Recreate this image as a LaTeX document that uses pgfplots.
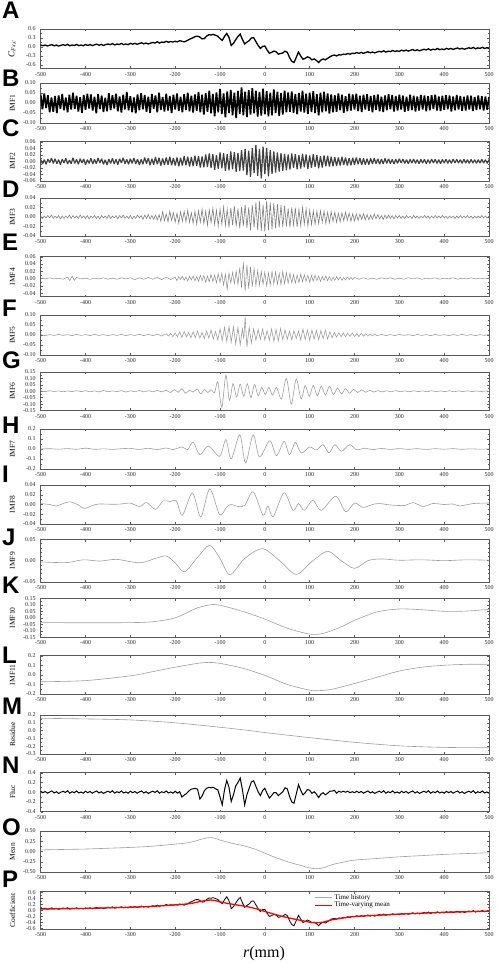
\documentclass[border=0pt]{standalone}
\usepackage{pgfplots}
\pgfplotsset{compat=1.18}
\usepackage{pgfplotstable}
\usepackage{fontspec}
\setmainfont{Liberation Serif}
\newfontfamily\panfont{Liberation Sans}

\pgfplotstableread[row sep=\\]{
x y\\
-500 0.070\\ -495 0.040\\ -490 0.066\\ -485 0.032\\ -480 0.057\\ -475 0.078\\ -470 0.038\\ -465 0.064\\ -460 0.029\\ -455 0.055\\
-450 0.075\\ -445 0.051\\ -440 0.086\\ -435 0.037\\ -430 0.067\\ -425 0.048\\ -420 0.083\\ -415 0.044\\ -410 0.064\\ -405 0.040\\
-400 0.080\\ -395 0.052\\ -390 0.079\\ -385 0.046\\ -380 0.073\\ -375 0.095\\ -370 0.057\\ -365 0.084\\ -360 0.051\\ -355 0.078\\
-350 0.100\\ -345 0.077\\ -340 0.114\\ -335 0.066\\ -330 0.098\\ -325 0.080\\ -320 0.117\\ -315 0.079\\ -310 0.101\\ -305 0.078\\
-300 0.120\\ -295 0.093\\ -290 0.121\\ -285 0.089\\ -280 0.117\\ -275 0.140\\ -270 0.103\\ -265 0.131\\ -260 0.099\\ -255 0.127\\
-250 0.150\\ -245 0.131\\ -240 0.172\\ -235 0.128\\ -230 0.164\\ -225 0.150\\ -220 0.191\\ -215 0.157\\ -210 0.183\\ -205 0.164\\
-200 0.19\\ -195 0.17\\ -190 0.21\\ -185 0.19\\ -180 0.17\\ -175 0.20\\ -170 0.24\\ -165 0.28\\ -160 0.31\\ -155 0.35\\
-150 0.36\\ -145 0.33\\ -140 0.27\\ -135 0.28\\ -130 0.36\\ -125 0.41\\ -120 0.40\\ -115 0.42\\ -110 0.39\\ -105 0.36\\
-100 0.28\\ -95 0.22\\ -90 0.35\\ -85 0.45\\ -80 0.32\\ -75 0.05\\ -70 0.12\\ -65 0.24\\ -60 0.35\\ -55 0.43\\
-50 0.25\\ -45 0.10\\ -40 0.16\\ -35 0.21\\ -30 0.30\\ -25 0.31\\ -20 0.18\\ -15 0.05\\ -10 -0.05\\ -5 0.02\\
0 0.03\\ 5 -0.10\\ 10 -0.21\\ 15 -0.18\\ 20 -0.14\\ 25 -0.16\\ 30 -0.24\\ 35 -0.22\\ 40 -0.20\\ 45 -0.14\\
50 -0.18\\ 55 -0.35\\ 60 -0.48\\ 65 -0.52\\ 70 -0.35\\ 75 -0.17\\ 80 -0.30\\ 85 -0.41\\ 90 -0.38\\ 95 -0.33\\
100 -0.36\\ 105 -0.43\\ 110 -0.40\\ 115 -0.45\\ 120 -0.52\\ 125 -0.44\\ 130 -0.40\\ 135 -0.43\\ 140 -0.38\\ 145 -0.33\\
150 -0.29\\ 155 -0.27\\ 160 -0.30\\ 165 -0.26\\ 170 -0.27\\ 175 -0.24\\ 180 -0.25\\ 185 -0.22\\ 190 -0.24\\ 195 -0.21\\
200 -0.22\\ 205 -0.186\\ 210 -0.212\\ 215 -0.183\\ 220 -0.214\\ 225 -0.185\\ 230 -0.161\\ 235 -0.197\\ 240 -0.168\\ 245 -0.199\\
250 -0.170\\ 255 -0.146\\ 260 -0.167\\ 265 -0.128\\ 270 -0.174\\ 275 -0.140\\ 280 -0.156\\ 285 -0.117\\ 290 -0.153\\ 295 -0.129\\
300 -0.150\\ 305 -0.107\\ 310 -0.134\\ 315 -0.106\\ 320 -0.138\\ 325 -0.110\\ 330 -0.087\\ 335 -0.124\\ 340 -0.096\\ 345 -0.128\\
350 -0.100\\ 355 -0.077\\ 360 -0.099\\ 365 -0.061\\ 370 -0.108\\ 375 -0.075\\ 380 -0.092\\ 385 -0.054\\ 390 -0.091\\ 395 -0.068\\
400 -0.090\\ 405 -0.048\\ 410 -0.076\\ 415 -0.049\\ 420 -0.082\\ 425 -0.055\\ 430 -0.033\\ 435 -0.071\\ 440 -0.044\\ 445 -0.077\\
450 -0.050\\ 455 -0.028\\ 460 -0.051\\ 465 -0.014\\ 470 -0.062\\ 475 -0.030\\ 480 -0.048\\ 485 -0.011\\ 490 -0.049\\ 495 -0.027\\
500 -0.050\\
}\Adata

\pgfplotstableread[row sep=\\]{
x y\\
-500 0.04\\ -450 0.05\\ -400 0.06\\ -350 0.08\\ -300 0.10\\ -250 0.13\\ -200 0.18\\ -180 0.20\\ -160 0.24\\ -145 0.29\\
-130 0.33\\ -120 0.34\\ -110 0.32\\ -100 0.28\\ -80 0.22\\ -60 0.17\\ -40 0.12\\ -20 0.05\\ 0 -0.04\\ 20 -0.13\\
40 -0.21\\ 60 -0.28\\ 80 -0.34\\ 100 -0.40\\ 115 -0.42\\ 130 -0.40\\ 150 -0.32\\ 175 -0.26\\ 200 -0.21\\ 250 -0.17\\
300 -0.13\\ 350 -0.10\\ 400 -0.07\\ 450 -0.05\\ 500 -0.03\\
}\Odata

\pgfplotsset{
  pan/.style={scale only axis, width=448.3pt, xmin=-500, xmax=500, anchor=north west,
    xtick={-500,-400,-300,-200,-100,0,100,200,300,400,500},
    scaled ticks=false, clip=true,
    tick align=inside, major tick length=2.2pt, minor tick length=1.2pt,
    minor y tick num=1, xtick pos=both, ytick pos=both,
    axis line style={black!65, line width=0.5pt},
    every tick/.append style={black!65, line width=0.4pt},
    tick label style={font=\fontsize{6}{7}\selectfont, text=black!85},
    /pgf/number format/assume math mode=true,
    xticklabel style={/pgf/number format/.cd, fixed, precision=0},
    yticklabel style={xshift=-1.5pt},
    ylabel style={at={(axis description cs:-0.063,0.5)}, anchor=center, font=\fontsize{7.5}{8}\selectfont},
  },
  p1/.style={yticklabel style={/pgf/number format/.cd, fixed, fixed zerofill, precision=1}},
  p2/.style={yticklabel style={/pgf/number format/.cd, fixed, fixed zerofill, precision=2}},
}

\newcommand{\plab}[2]{\node[anchor=base west, inner sep=0pt] at (2pt,-#1pt) {\panfont\bfseries\fontsize{24}{24}\selectfont #2};}

\begin{document}
\begin{tikzpicture}
\useasboundingbox (0pt,0pt) rectangle (498pt,-964pt);

\plab{18}{A}\plab{86}{B}\plab{136}{C}\plab{197}{D}\plab{250}{E}\plab{316}{F}\plab{368}{G}\plab{433}{H}
\plab{482}{I}\plab{545}{J}\plab{593}{K}\plab{663}{L}\plab{714}{M}\plab{773}{N}\plab{835}{O}\plab{887}{P}

% A
\begin{axis}[pan, p1, at={(40.7pt,-29pt)}, height=39.5pt, ymin=-0.72, ymax=0.6,
  ytick={-0.6,-0.3,0,0.3,0.6}, ylabel={\fontsize{9}{9}\selectfont\textit{C}\textsubscript{\textit{Fx,c}}}]
\addplot[black, line width=1.3pt] table[x=x,y=y] {\Adata};
\end{axis}

% B
\begin{axis}[pan, p2, at={(40.7pt,-83pt)}, height=40pt, ymin=-0.1, ymax=0.1,
  ytick={-0.1,-0.05,0,0.05,0.1}, ylabel={IMF1}]
\addplot[black, line width=1.7pt, line join=bevel] coordinates {
(-500,0.042)(-496,-0.031)(-492,0.048)(-488,-0.025)(-484,0.039)(-480,-0.046)(-476,0.028)(-472,-0.044)(-468,0.035)(-464,-0.050)
(-460,0.038)(-456,-0.029)(-452,0.045)(-448,-0.036)(-444,0.027)(-440,-0.047)(-436,0.041)(-432,-0.033)(-428,0.052)(-424,-0.030)
(-420,0.036)(-416,-0.043)(-412,0.029)(-408,-0.049)(-404,0.040)(-400,-0.034)(-396,0.046)(-392,-0.027)(-388,0.043)(-384,-0.038)
(-380,0.031)(-376,-0.051)(-372,0.044)(-368,-0.030)(-364,0.037)(-360,-0.045)(-356,0.026)(-352,-0.041)(-348,0.049)(-344,-0.035)
(-340,0.039)(-336,-0.028)(-332,0.047)(-328,-0.042)(-324,0.033)(-320,-0.048)(-316,0.041)(-312,-0.032)(-308,0.055)(-304,-0.037)
(-300,0.034)(-296,-0.046)(-292,0.028)(-288,-0.052)(-284,0.043)(-280,-0.036)(-276,0.049)(-272,-0.031)(-268,0.040)(-264,-0.044)
(-260,0.032)(-256,-0.049)(-252,0.045)(-248,-0.029)(-244,0.038)(-240,-0.047)(-236,0.051)(-232,-0.034)(-228,0.030)(-224,-0.043)
(-220,0.046)(-216,-0.038)(-212,0.035)(-208,-0.050)(-204,0.042)(-200,-0.033)(-196,0.048)(-192,-0.040)(-188,0.031)(-184,-0.046)
(-180,0.044)(-176,-0.035)(-172,0.052)(-168,-0.041)(-164,0.037)(-160,-0.048)(-156,0.043)(-152,-0.039)(-148,0.055)(-144,-0.046)
(-140,0.041)(-136,-0.058)(-132,0.049)(-128,-0.044)(-124,0.062)(-120,-0.051)(-116,0.045)(-112,-0.066)(-108,0.053)(-104,-0.047)
(-100,0.070)(-96,-0.055)(-92,0.048)(-88,-0.072)(-84,0.058)(-80,-0.050)(-76,0.065)(-72,-0.061)(-68,0.052)(-64,-0.075)
(-60,0.060)(-56,-0.054)(-52,0.078)(-48,-0.062)(-44,0.057)(-40,-0.070)(-36,0.064)(-32,-0.058)(-28,0.074)(-24,-0.052)
(-20,0.061)(-16,-0.068)(-12,0.055)(-8,-0.063)(-4,0.071)(0,-0.057)(4,0.059)(8,-0.066)(12,0.052)(16,-0.061)
(20,0.068)(24,-0.050)(28,0.056)(32,-0.064)(36,0.049)(40,-0.058)(44,0.062)(48,-0.047)(52,0.053)(56,-0.044)
(60,0.058)(64,-0.049)(68,0.045)(72,-0.056)(76,0.050)(80,-0.043)(84,0.061)(88,-0.048)(92,0.046)(96,-0.055)
(100,0.052)(104,-0.045)(108,0.059)(112,-0.050)(116,0.044)(120,-0.062)(124,0.051)(128,-0.046)(132,0.057)(136,-0.042)
(140,0.048)(144,-0.053)(148,0.043)(152,-0.047)(156,0.039)(160,-0.044)(164,0.048)(168,-0.036)(172,0.042)(176,-0.049)
(180,0.034)(184,-0.041)(188,0.046)(192,-0.038)(196,0.043)(200,-0.033)(204,0.047)(208,-0.040)(212,0.036)(216,-0.045)
(220,0.041)(224,-0.032)(228,0.044)(232,-0.039)(236,0.035)(240,-0.046)(244,0.040)(248,-0.034)(252,0.043)(256,-0.041)
(260,0.032)(264,-0.045)(268,0.038)(272,-0.036)(276,0.044)(280,-0.031)(284,0.040)(288,-0.043)(292,0.035)(296,-0.038)
(300,0.042)(304,-0.033)(308,0.037)(312,-0.044)(316,0.031)(320,-0.039)(324,0.041)(328,-0.035)(332,0.036)(336,-0.042)
(340,0.033)(344,-0.037)(348,0.040)(352,-0.032)(356,0.038)(360,-0.041)(364,0.034)(368,-0.036)(372,0.039)(376,-0.030)
(380,0.042)(384,-0.038)(388,0.033)(392,-0.040)(396,0.036)(400,-0.034)(404,0.039)(408,-0.031)(412,0.037)(416,-0.042)
(420,0.032)(424,-0.036)(428,0.040)(432,-0.033)(436,0.035)(440,-0.039)(444,0.031)(448,-0.037)(452,0.038)(456,-0.032)
(460,0.036)(464,-0.040)(468,0.030)(472,-0.035)(476,0.037)(480,-0.031)(484,0.034)(488,-0.038)(492,0.032)(496,-0.034)(500,0.030)};
\end{axis}

% C
\begin{axis}[pan, p2, at={(40.7pt,-141.7pt)}, height=39.3pt, ymin=-0.06, ymax=0.06,
  ytick={-0.06,-0.04,-0.02,0,0.02,0.04,0.06}, ylabel={IMF2}]
\addplot[black!75, line width=1.2pt, line join=bevel] coordinates {
(-500,0.006)(-496,-0.008)(-492,0.005)(-488,-0.009)(-484,0.007)(-480,-0.004)(-476,0.010)(-472,-0.006)(-468,0.008)(-464,-0.007)
(-460,0.005)(-456,-0.010)(-452,0.007)(-448,-0.005)(-444,0.009)(-440,-0.008)(-436,0.004)(-432,-0.007)(-428,0.011)(-424,-0.006)
(-420,0.006)(-416,-0.009)(-412,0.008)(-408,-0.005)(-404,0.007)(-400,-0.010)(-396,0.005)(-392,-0.006)(-388,0.009)(-384,-0.008)
(-380,0.006)(-376,-0.007)(-372,0.010)(-368,-0.005)(-364,0.008)(-360,-0.009)(-356,0.005)(-352,-0.011)(-348,0.007)(-344,-0.006)
(-340,0.009)(-336,-0.008)(-332,0.006)(-328,-0.010)(-324,0.008)(-320,-0.005)(-316,0.011)(-312,-0.007)(-308,0.006)(-304,-0.009)
(-300,0.008)(-296,-0.006)(-292,0.010)(-288,-0.008)(-284,0.007)(-280,-0.011)(-276,0.006)(-272,-0.009)(-268,0.012)(-264,-0.007)
(-260,0.010)(-256,-0.012)(-252,0.008)(-248,-0.010)(-244,0.013)(-240,-0.009)(-236,0.011)(-232,-0.013)(-228,0.009)(-224,-0.011)
(-220,0.012)(-216,-0.010)(-212,0.014)(-208,-0.012)(-204,0.010)(-200,-0.013)(-196,0.012)(-192,-0.015)(-188,0.011)(-184,-0.013)
(-180,0.016)(-176,-0.012)(-172,0.014)(-168,-0.016)(-164,0.013)(-160,-0.015)(-156,0.017)(-152,-0.014)(-148,0.016)(-144,-0.019)
(-140,0.015)(-136,-0.018)(-132,0.021)(-128,-0.017)(-124,0.024)(-120,-0.020)(-116,0.022)(-112,-0.026)(-108,0.019)(-104,-0.023)
(-100,0.027)(-96,-0.021)(-92,0.025)(-88,-0.029)(-84,0.022)(-80,-0.027)(-76,0.030)(-72,-0.024)(-68,0.028)(-64,-0.032)
(-60,0.026)(-56,-0.030)(-52,0.034)(-48,-0.028)(-44,0.038)(-40,-0.042)(-36,0.033)(-32,-0.047)(-28,0.040)(-24,-0.036)
(-20,0.050)(-16,-0.044)(-12,0.038)(-8,-0.052)(-4,0.045)(0,-0.039)(4,0.041)(8,-0.046)(12,0.034)(16,-0.038)
(20,0.030)(24,-0.034)(28,0.027)(32,-0.031)(36,0.025)(40,-0.029)(44,0.023)(48,-0.027)(52,0.021)(56,-0.025)
(60,0.024)(64,-0.020)(68,0.022)(72,-0.024)(76,0.019)(80,-0.022)(84,0.023)(88,-0.018)(92,0.021)(96,-0.023)
(100,0.018)(104,-0.020)(108,0.022)(112,-0.017)(116,0.019)(120,-0.021)(124,0.016)(128,-0.019)(132,0.018)(136,-0.015)
(140,0.017)(144,-0.016)(148,0.014)(152,-0.015)(156,0.013)(160,-0.014)(164,0.012)(168,-0.013)(172,0.014)(176,-0.011)
(180,0.012)(184,-0.013)(188,0.010)(192,-0.012)(196,0.011)(200,-0.010)(204,0.012)(208,-0.009)(212,0.010)(216,-0.011)
(220,0.009)(224,-0.010)(228,0.008)(232,-0.010)(236,0.009)(240,-0.008)(244,0.010)(248,-0.007)(252,0.008)(256,-0.009)
(260,0.007)(264,-0.008)(268,0.009)(272,-0.006)(276,0.008)(280,-0.007)(284,0.006)(288,-0.008)(292,0.007)(296,-0.006)
(300,0.008)(304,-0.005)(308,0.007)(312,-0.006)(316,0.005)(320,-0.007)(324,0.006)(328,-0.005)(332,0.007)(336,-0.006)
(340,0.005)(344,-0.007)(348,0.006)(352,-0.005)(356,0.006)(360,-0.007)(364,0.005)(368,-0.006)(372,0.007)(376,-0.005)
(380,0.006)(384,-0.006)(388,0.005)(392,-0.007)(396,0.006)(400,-0.005)(404,0.006)(408,-0.006)(412,0.005)(416,-0.006)
(420,0.007)(424,-0.005)(428,0.006)(432,-0.005)(436,0.005)(440,-0.006)(444,0.006)(448,-0.005)(452,0.005)(456,-0.006)
(460,0.006)(464,-0.005)(468,0.005)(472,-0.006)(476,0.005)(480,-0.005)(484,0.006)(488,-0.005)(492,0.005)(496,-0.006)(500,0.005)};
\end{axis}

% D
\begin{axis}[pan, p2, at={(40.7pt,-198pt)}, height=38pt, ymin=-0.04, ymax=0.04,
  ytick={-0.04,-0.02,0,0.02,0.04}, ylabel={IMF3}]
\addplot[black!50, line width=0.6pt] coordinates {
(-500,0.002)(-496,-0.003)(-492,0.002)(-488,-0.002)(-484,0.003)(-480,-0.002)(-476,0.004)(-472,-0.003)(-468,0.002)(-464,-0.002)
(-460,0.003)(-456,-0.004)(-452,0.002)(-448,-0.003)(-444,0.002)(-440,-0.002)(-436,0.004)(-432,-0.003)(-428,0.003)(-424,-0.002)
(-420,0.002)(-416,-0.003)(-412,0.004)(-408,-0.002)(-404,0.002)(-400,-0.003)(-396,0.003)(-392,-0.004)(-388,0.002)(-384,-0.002)
(-380,0.003)(-376,-0.003)(-372,0.002)(-368,-0.004)(-364,0.003)(-360,-0.002)(-356,0.002)(-352,-0.003)(-348,0.004)(-344,-0.003)
(-340,0.002)(-336,-0.002)(-332,0.003)(-328,-0.004)(-324,0.003)(-320,-0.002)(-316,0.004)(-312,-0.003)(-308,0.002)(-304,-0.003)
(-300,0.003)(-296,-0.004)(-292,0.002)(-288,-0.003)(-284,0.004)(-280,-0.002)(-276,0.003)(-272,-0.005)(-268,0.004)(-264,-0.003)
(-260,0.005)(-256,-0.004)(-252,0.003)(-248,-0.005)(-244,0.004)(-240,-0.006)(-236,0.005)(-232,-0.009)(-228,0.011)(-224,-0.008)
(-220,0.006)(-216,-0.010)(-212,0.012)(-208,-0.007)(-204,0.009)(-200,-0.011)(-196,0.008)(-192,-0.013)(-188,0.011)(-184,-0.009)
(-180,0.012)(-176,-0.010)(-172,0.014)(-168,-0.011)(-164,0.009)(-160,-0.013)(-156,0.012)(-152,-0.015)(-148,0.013)(-144,-0.011)
(-140,0.016)(-136,-0.014)(-132,0.012)(-128,-0.017)(-124,0.015)(-120,-0.012)(-116,0.018)(-112,-0.016)(-108,0.014)(-104,-0.019)
(-100,0.017)(-96,-0.015)(-92,0.021)(-88,-0.018)(-84,0.016)(-80,-0.022)(-76,0.019)(-72,-0.017)(-68,0.023)(-64,-0.020)
(-60,0.018)(-56,-0.024)(-52,0.021)(-48,-0.019)(-44,0.026)(-40,-0.023)(-36,0.020)(-32,-0.028)(-28,0.025)(-24,-0.022)
(-20,0.030)(-16,-0.027)(-12,0.033)(-8,-0.029)(-4,0.026)(0,-0.031)(4,0.034)(8,-0.028)(12,0.031)(16,-0.026)
(20,0.029)(24,-0.024)(28,0.027)(32,-0.022)(36,0.025)(40,-0.021)(44,0.024)(48,-0.020)(52,0.018)(56,-0.022)
(60,0.020)(64,-0.017)(68,0.019)(72,-0.021)(76,0.016)(80,-0.018)(84,0.020)(88,-0.015)(92,0.017)(96,-0.019)
(100,0.014)(104,-0.016)(108,0.013)(112,-0.015)(116,0.012)(120,-0.014)(124,0.013)(128,-0.011)(132,0.012)(136,-0.013)
(140,0.010)(144,-0.012)(148,0.011)(152,-0.009)(156,0.010)(160,-0.011)(164,0.008)(168,-0.010)(172,0.009)(176,-0.008)
(180,0.010)(184,-0.007)(188,0.008)(192,-0.009)(196,0.007)(200,-0.008)(204,0.006)(208,-0.007)(212,0.006)(216,-0.005)
(220,0.007)(224,-0.006)(228,0.005)(232,-0.006)(236,0.004)(240,-0.005)(244,0.006)(248,-0.004)(252,0.005)(256,-0.004)
(260,0.003)(264,-0.005)(268,0.004)(272,-0.003)(276,0.004)(280,-0.003)(284,0.003)(288,-0.004)(292,0.003)(296,-0.002)
(300,0.003)(304,-0.003)(308,0.002)(312,-0.003)(316,0.003)(320,-0.002)(324,0.002)(328,-0.003)(332,0.003)(336,-0.002)
(340,0.002)(344,-0.003)(348,0.002)(352,-0.002)(356,0.003)(360,-0.002)(364,0.002)(368,-0.003)(372,0.002)(376,-0.002)
(380,0.003)(384,-0.002)(388,0.002)(392,-0.002)(396,0.003)(400,-0.002)(404,0.002)(408,-0.003)(412,0.002)(416,-0.002)
(420,0.002)(424,-0.003)(428,0.002)(432,-0.002)(436,0.003)(440,-0.002)(444,0.002)(448,-0.002)(452,0.003)(456,-0.002)
(460,0.002)(464,-0.003)(468,0.002)(472,-0.002)(476,0.002)(480,-0.002)(484,0.003)(488,-0.002)(492,0.002)(496,-0.002)(500,0.002)};
\end{axis}

% E
\begin{axis}[pan, p2, at={(40.7pt,-256.7pt)}, height=40pt, ymin=-0.05, ymax=0.06,
  ytick={-0.04,-0.02,0,0.02,0.04,0.06}, ylabel={IMF4}]
\addplot[black!45, line width=0.5pt] coordinates {
(-500,0.001)(-490,-0.001)(-480,0.002)(-470,-0.001)(-460,0.001)(-450,-0.002)(-440,0.004)(-435,-0.006)(-430,0.007)(-425,-0.005)
(-420,0.003)(-410,-0.001)(-400,0.001)(-390,-0.002)(-380,0.001)(-370,-0.001)(-360,0.002)(-350,-0.002)(-340,0.001)(-330,-0.002)
(-320,0.002)(-310,-0.001)(-300,0.002)(-290,-0.003)(-280,0.002)(-270,-0.002)(-260,0.003)(-250,-0.002)(-240,0.003)(-230,-0.003)
(-220,0.004)(-210,-0.003)
(-200,0.004)(-196,-0.006)(-192,0.005)(-188,-0.003)(-184,0.006)(-180,-0.005)(-176,0.004)(-172,-0.007)(-168,0.006)(-164,-0.004)
(-160,0.007)(-156,-0.006)(-152,0.005)(-148,-0.008)(-144,0.009)(-140,-0.006)(-136,0.008)(-132,-0.010)(-128,0.007)(-124,-0.009)
(-120,0.011)(-116,-0.008)(-112,0.010)(-108,-0.012)(-104,0.013)(-100,-0.010)(-96,0.014)(-92,-0.018)(-88,0.012)(-84,-0.030)
(-80,0.015)(-76,-0.012)(-72,0.017)(-68,-0.014)(-64,0.020)(-60,-0.016)(-56,0.030)(-52,-0.025)(-48,0.045)(-44,-0.035)
(-40,0.038)(-36,-0.028)(-32,0.032)(-28,-0.022)(-24,0.028)(-20,-0.020)(-16,0.022)(-12,-0.018)(-8,0.020)(-4,-0.016)
(0,0.018)(4,-0.020)(8,0.016)(12,-0.018)(16,0.020)(20,-0.015)(24,0.018)(28,-0.016)(32,0.014)(36,-0.017)
(40,0.019)(44,-0.014)(48,0.016)(52,-0.013)(56,0.015)(60,-0.012)(64,0.011)(68,-0.013)(72,0.010)(76,-0.011)
(80,0.012)(84,-0.009)(88,0.010)(92,-0.008)(96,0.009)(100,-0.010)(104,0.008)(108,-0.007)(112,0.009)(116,-0.006)
(120,0.007)(124,-0.008)(128,0.006)(132,-0.005)(136,0.007)(140,-0.006)(144,0.005)(148,-0.006)(152,0.004)(156,-0.005)
(160,0.005)(164,-0.004)(168,0.004)(172,-0.005)(176,0.003)(180,-0.004)(184,0.004)(188,-0.003)(192,0.003)(196,-0.003)(200,0.003)
(210,-0.002)(220,0.002)(230,-0.002)(240,0.001)(250,-0.002)(260,0.002)(270,-0.001)(280,0.002)(290,-0.002)(300,0.001)
(310,-0.002)(320,0.002)(330,-0.001)(340,0.002)(350,-0.002)(360,0.001)(370,-0.001)(380,0.002)(390,-0.002)(400,0.001)
(410,-0.001)(420,0.002)(430,-0.002)(440,0.001)(450,-0.001)(460,0.002)(470,-0.001)(480,0.001)(490,-0.001)(500,0.001)};
\end{axis}

% F
\begin{axis}[pan, p2, at={(40.7pt,-315pt)}, height=40pt, ymin=-0.1, ymax=0.1,
  ytick={-0.1,-0.05,0,0.05,0.1}, ylabel={IMF5}]
\addplot[black!38, line width=0.6pt] coordinates {
(-500,0.002)(-490,-0.003)(-480,0.002)(-470,-0.002)(-460,0.003)(-450,-0.002)(-440,0.002)(-430,-0.003)(-420,0.003)(-410,-0.002)
(-400,0.002)(-390,-0.003)(-380,0.003)(-370,-0.002)(-360,0.002)(-350,-0.003)(-340,0.002)(-330,-0.002)(-320,0.003)(-310,-0.003)
(-300,0.002)(-290,-0.002)(-280,0.003)(-270,-0.003)(-260,0.004)(-250,-0.003)(-240,0.004)(-230,-0.005)
(-220,0.006)(-215,-0.005)(-210,0.007)(-205,-0.008)(-200,0.010)(-195,-0.009)(-190,0.015)(-185,-0.012)(-180,0.018)(-175,-0.010)
(-170,0.012)(-165,-0.014)(-160,0.016)(-155,-0.013)(-150,0.020)(-145,-0.015)(-140,0.012)(-135,-0.018)(-130,0.020)(-125,-0.016)
(-120,0.024)(-115,-0.020)(-110,0.018)(-105,-0.025)(-100,0.030)(-95,-0.028)(-90,0.038)(-85,-0.032)(-80,0.042)(-75,-0.036)
(-70,0.040)(-65,-0.044)(-60,0.038)(-55,-0.048)(-50,0.030)(-47,-0.020)(-44,0.090)(-40,-0.060)(-35,0.038)(-30,-0.040)
(-25,0.030)(-20,-0.026)(-15,0.028)(-10,-0.022)(-5,0.030)(0,-0.025)(5,0.022)(10,-0.028)(15,0.030)(20,-0.032)
(25,0.028)(30,-0.030)(35,0.032)(40,-0.024)(45,0.026)(50,-0.022)(55,0.020)(60,-0.024)(65,0.022)(70,-0.018)
(75,0.020)(80,-0.025)(85,0.030)(90,-0.022)(95,0.024)(100,-0.026)(105,0.025)(110,-0.020)(115,0.023)(120,-0.024)
(125,0.022)(130,-0.018)(135,0.025)(140,-0.020)(145,0.016)(150,-0.014)(155,0.012)(160,-0.010)(165,0.011)(170,-0.009)
(175,0.010)(180,-0.008)(185,0.009)(190,-0.007)(195,0.010)(200,-0.008)(205,0.007)(210,-0.008)(215,0.009)(220,-0.006)
(225,0.006)(230,-0.005)(235,0.005)(240,-0.004)(245,0.005)(250,-0.004)(260,0.003)(270,-0.003)(280,0.002)(290,-0.003)
(300,0.003)(310,-0.002)(320,0.002)(330,-0.003)(340,0.003)(350,-0.002)(360,0.002)(370,-0.003)(380,0.003)(390,-0.002)
(400,0.002)(410,-0.003)(420,0.002)(430,-0.002)(440,0.003)(450,-0.002)(460,0.002)(470,-0.003)(480,0.002)(490,-0.002)(500,0.002)};
\end{axis}

% G
\begin{axis}[pan, p2, at={(40.7pt,-372pt)}, height=38.5pt, ymin=-0.15, ymax=0.15,
  ytick={-0.15,-0.1,-0.05,0,0.05,0.1,0.15}, ylabel={IMF6}]
\addplot[black!38, line width=0.6pt, smooth] coordinates {
(-500,0.003)(-490,-0.003)(-480,0.004)(-470,-0.002)(-460,0.003)(-450,-0.004)(-440,0.003)(-430,-0.003)(-420,0.005)(-410,-0.003)
(-400,0.004)(-390,-0.004)(-380,0.003)(-370,-0.005)(-360,0.006)(-350,-0.004)(-340,0.003)(-330,-0.003)(-320,0.005)(-310,-0.006)
(-300,0.004)(-290,-0.004)(-280,0.006)(-270,-0.005)(-260,0.005)(-250,-0.004)(-240,0.006)(-230,-0.005)
(-220,0.008)(-211,-0.010)(-202,0.012)(-193,-0.008)(-185,0.020)(-177,-0.015)(-168,0.008)(-160,-0.006)(-151,0.018)(-143,-0.020)
(-135,0.014)(-127,-0.010)(-120,0.012)(-112,-0.010)(-105,0.073)(-96,-0.125)(-87,0.125)(-79,-0.070)(-71,0.060)(-63,-0.045)
(-55,0.055)(-47,-0.040)(-39,0.058)(-31,-0.050)(-23,0.052)(-15,-0.035)(-7,0.030)(1,-0.025)(9,0.030)(17,-0.030)
(26,0.030)(37,-0.060)(48,0.100)(59,-0.100)(70,0.095)(81,-0.060)(90,0.045)(99,-0.040)(108,0.045)(117,-0.035)
(126,0.040)(135,-0.030)(144,0.040)(153,-0.025)(162,0.025)(171,-0.020)(180,0.020)(189,-0.015)(198,0.015)(207,-0.010)
(216,0.012)(225,-0.008)(234,0.008)(243,-0.006)(252,0.005)(262,-0.005)(272,0.004)(282,-0.004)(292,0.005)(302,-0.004)
(312,0.003)(322,-0.004)(332,0.004)(342,-0.003)(352,0.003)(362,-0.004)(372,0.004)(382,-0.003)(392,0.003)(402,-0.003)
(412,0.004)(422,-0.004)(432,0.003)(442,-0.003)(452,0.004)(462,-0.003)(472,0.003)(482,-0.003)(492,0.003)(500,-0.002)};
\end{axis}

% H
\begin{axis}[pan, p1, at={(40.7pt,-429pt)}, height=40pt, ymin=-0.2, ymax=0.2,
  ytick={-0.2,-0.1,0,0.1,0.2}, ylabel={IMF7}]
\addplot[black!38, line width=0.6pt, smooth] coordinates {
(-500,0)(-480,0.003)(-460,-0.002)(-440,0.004)(-420,-0.003)(-400,0.008)(-380,-0.003)(-360,0.002)(-340,-0.004)(-320,0.003)
(-300,0.006)(-280,-0.004)(-260,0.007)(-240,-0.005)(-220,0.010)(-205,-0.006)(-185,0.020)(-172,-0.005)(-160,0.070)(-145,-0.057)
(-126,0.030)(-101,-0.073)(-87,0.093)(-75,-0.100)(-56,0.143)(-43,-0.140)(-26,0.143)(-12,-0.080)(11,0.083)(26,-0.067)
(43,0.077)(55,-0.057)(68,0.067)(81,-0.040)(100,0.020)(115,-0.010)(130,0.043)(143,-0.040)(156,0.043)(171,-0.023)
(189,0.043)(205,-0.008)(222,0.008)(240,-0.006)(260,0.005)(280,-0.004)(300,0.004)(320,-0.003)(340,0.003)(360,-0.004)
(380,0.003)(400,-0.002)(420,0.003)(440,-0.003)(460,0.002)(480,-0.002)(500,0.001)};
\end{axis}

% I
\begin{axis}[pan, p2, at={(40.7pt,-485pt)}, height=39pt, ymin=-0.04, ymax=0.04,
  ytick={-0.04,-0.02,0,0.02,0.04}, ylabel={IMF8}]
\addplot[black!38, line width=0.6pt, smooth] coordinates {
(-500,0.002)(-480,0.000)(-465,-0.003)(-450,0.002)(-435,0.0055)(-418,0.000)(-402,-0.008)(-385,-0.002)(-370,0.001)(-340,0.0005)
(-320,0.001)(-301,0.003)(-279,-0.004)(-264,0.004)(-243.5,-0.010)(-227,0.0075)(-212,0.006)(-197.5,0.0075)(-184,-0.022)(-161.6,0.024)
(-143,-0.0255)(-123,0.032)(-100.8,-0.021)(-85,-0.005)(-75,0.000)(-60,-0.004)(-45,-0.002)(-26,0.026)(-4,-0.022)(7,-0.003)
(18.6,-0.025)(42.7,0.024)(62.8,-0.012)(75,0.002)(88,-0.012)(107,0.009)(125.9,-0.012)(158,0.017)(180.3,-0.015)(200,0.003)
(219,-0.006)(240,0.000)(256,0.002)(280,-0.001)(312,-0.002)(330,0.004)(353,-0.004)(375,0.002)(400,0.000)(420,0.001)
(435,-0.003)(465,0.002)(495,0.003)(500,0.003)};
\end{axis}

% J
\begin{axis}[pan, p2, at={(40.7pt,-539.3pt)}, height=42.7pt, ymin=-0.05, ymax=0.05,
  ytick={-0.05,0,0.05}, minor y tick num=4, ylabel={IMF9}]
\addplot[black!38, line width=0.6pt, smooth] coordinates {
(-500,-0.003)(-442,-0.0045)(-405,0.002)(-368,-0.001)(-331,0.003)(-279,-0.005)(-242,0.006)(-220,0.011)(-200,-0.005)(-179,-0.026)
(-150,0.008)(-123,0.036)(-100,0.005)(-78,-0.033)(-45,0.005)(-5,0.028)(35,-0.002)(70,-0.032)(105,-0.002)(140,0.022)
(170,0.000)(200,-0.018)(230,0.000)(260,0.004)(300,0.001)(350,0.002)(400,0.000)(450,0.002)(500,0.001)};
\end{axis}

% K
\begin{axis}[pan, p2, at={(40.7pt,-598.3pt)}, height=39pt, ymin=-0.15, ymax=0.15,
  ytick={-0.15,-0.1,-0.05,0,0.05,0.1,0.15}, ylabel={IMF10}]
\addplot[black!38, line width=0.6pt, smooth] coordinates {
(-500,-0.037)(-400,-0.038)(-300,-0.037)(-250,-0.030)(-200,0.000)(-150,0.077)(-115,0.103)(-100,0.097)(-50,0.050)(0,-0.010)
(50,-0.080)(100,-0.125)(130,-0.120)(170,-0.070)(200,-0.020)(250,0.045)(300,0.068)(350,0.062)(400,0.050)(450,0.052)(500,0.065)};
\end{axis}

% L
\begin{axis}[pan, p1, at={(40.7pt,-655.7pt)}, height=38.3pt, ymin=-0.2, ymax=0.2,
  ytick={-0.2,-0.1,0,0.1,0.2}, ylabel={IMF11}]
\addplot[black!38, line width=0.6pt, smooth] coordinates {
(-500,-0.072)(-400,-0.060)(-300,-0.010)(-250,0.034)(-200,0.080)(-150,0.120)(-125,0.130)(-100,0.120)(-50,0.070)(0,-0.005)
(50,-0.100)(100,-0.160)(120,-0.165)(150,-0.150)(200,-0.090)(250,-0.025)(300,0.040)(350,0.080)(400,0.100)(450,0.110)(500,0.110)};
\end{axis}

% M
\begin{axis}[pan, p1, at={(40.7pt,-715pt)}, height=39pt, ymin=-0.3, ymax=0.2,
  ytick={-0.3,-0.2,-0.1,0,0.1,0.2}, ylabel={Residue}]
\addplot[black!38, line width=0.6pt, smooth] coordinates {
(-500,0.158)(-400,0.150)(-300,0.137)(-200,0.100)(-100,0.043)(-33,0.000)(0,-0.025)(100,-0.090)(200,-0.150)(300,-0.195)(400,-0.215)(500,-0.220)};
\end{axis}

% N
\begin{axis}[pan, p1, at={(40.7pt,-772.7pt)}, height=39pt, ymin=-0.4, ymax=0.4,
  ytick={-0.4,-0.2,0,0.2,0.4}, ylabel={Fluc}]
\addplot[black, line width=1pt] coordinates {
(-500,0.02)(-495,-0.01)(-490,0.015)(-485,-0.02)(-480,0.005)(-475,0.025)(-470,-0.015)(-465,0.01)(-460,-0.025)(-455,0)
(-450,0.02)(-445,-0.005)(-440,0.03)(-435,-0.02)(-430,0.01)(-425,-0.01)(-420,0.025)(-415,-0.015)(-410,0.005)(-405,-0.02)
(-400,0.02)(-395,-0.01)(-390,0.015)(-385,-0.02)(-380,0.005)(-375,0.025)(-370,-0.015)(-365,0.01)(-360,-0.025)(-355,0)
(-350,0.02)(-345,-0.005)(-340,0.03)(-335,-0.02)(-330,0.01)(-325,-0.01)(-320,0.025)(-315,-0.015)(-310,0.005)(-305,-0.02)
(-300,0.02)(-295,-0.01)(-290,0.015)(-285,-0.02)(-280,0.005)(-275,0.025)(-270,-0.015)(-265,0.01)(-260,-0.025)(-255,0)
(-250,0.02)(-245,-0.005)(-240,0.03)(-235,-0.02)(-230,0.01)(-225,-0.01)(-220,0.025)(-215,-0.015)(-210,0.005)(-205,-0.02)
(-200,0.02)(-195,-0.02)(-190,0.01)(-185,-0.10)(-180,-0.06)(-175,-0.03)(-170,0.02)(-165,0.06)(-160,0.07)(-155,0.08)
(-150,0.06)(-145,-0.14)(-140,-0.08)(-135,0.03)(-130,0.08)(-125,0.10)(-120,0.09)(-115,0.10)(-110,0.07)(-105,0.05)
(-100,-0.10)(-95,-0.26)(-90,0.05)(-85,0.24)(-80,0.10)(-75,-0.19)(-70,-0.05)(-65,0.13)(-60,0.20)(-55,0.29)
(-50,0.05)(-45,-0.26)(-40,-0.05)(-35,0.08)(-30,0.21)(-25,0.235)(-20,0.12)(-15,0.01)(-10,-0.07)(-5,0.035)
(0,0.08)(5,-0.025)(10,-0.12)(15,-0.07)(20,-0.01)(25,-0.01)(30,-0.07)(35,-0.03)(40,0.01)(45,0.09)
(50,0.07)(55,-0.085)(60,-0.20)(65,-0.225)(70,-0.04)(75,0.155)(80,0.04)(85,-0.055)(90,-0.01)(95,0.055)
(100,0.04)(105,-0.025)(110,0.01)(115,-0.04)(120,-0.11)(125,-0.04)(130,-0.01)(135,-0.055)(140,-0.02)(145,0.02)
(150,0.02)(155,0.04)(160,-0.02)(165,0.02)(170,0)(175,0.02)(180,0)(185,0.02)(190,-0.01)(195,0.01)(200,-0.01)
(205,0.02)(210,-0.01)(215,0.015)(220,-0.02)(225,0.005)(230,0.025)(235,-0.015)(240,0.01)(245,-0.025)(250,0)
(255,0.02)(260,-0.005)(265,0.03)(270,-0.02)(275,0.01)(280,-0.01)(285,0.025)(290,-0.015)(295,0.005)(300,-0.02)
(305,0.02)(310,-0.01)(315,0.015)(320,-0.02)(325,0.005)(330,0.025)(335,-0.015)(340,0.01)(345,-0.025)(350,0)
(355,0.02)(360,-0.005)(365,0.03)(370,-0.02)(375,0.01)(380,-0.01)(385,0.025)(390,-0.015)(395,0.005)(400,-0.02)
(405,0.02)(410,-0.01)(415,0.015)(420,-0.02)(425,0.005)(430,0.025)(435,-0.015)(440,0.01)(445,-0.025)(450,0)
(455,0.02)(460,-0.005)(465,0.03)(470,-0.02)(475,0.01)(480,-0.01)(485,0.025)(490,-0.015)(495,0.005)(500,-0.02)};
\end{axis}

% O
\begin{axis}[pan, p2, at={(40.7pt,-831pt)}, height=41pt, ymin=-0.5, ymax=0.5,
  ytick={-0.5,-0.25,0,0.25,0.5}, ylabel={Mean}]
\addplot[black!38, line width=0.6pt, smooth] table[x=x,y=y] {\Odata};
\end{axis}

% P
\begin{axis}[pan, p1, at={(40.7pt,-891.7pt)}, height=37.6pt, ymin=-0.64, ymax=0.62,
  ytick={-0.6,-0.4,-0.2,0,0.2,0.4,0.6}, ylabel={Coefficient},
  legend style={at={(axis description cs:0.61,0.99)}, anchor=north west, draw=none, fill=none,
    font=\fontsize{7}{8}\selectfont, row sep=-2.5pt, inner sep=0pt},
  legend cell align=left]
\addplot[black, line width=0.8pt,
  legend image code/.code={\draw[black!35, line width=0.8pt] (0cm,0cm) -- (0.6cm,0cm);}]
  table[x=x,y=y] {\Adata};
\addlegendentry{Time history}
\addplot[red, line width=1.3pt, smooth,
  legend image code/.code={\draw[red, line width=1.3pt] (0cm,0cm) -- (0.6cm,0cm);}]
  table[x=x,y=y] {\Odata};
\addlegendentry{Time-varying mean}
\end{axis}

\node[anchor=base] at (264pt,-957pt) {\fontsize{16}{18}\selectfont\textit{r}(mm)};
\end{tikzpicture}
\end{document}
